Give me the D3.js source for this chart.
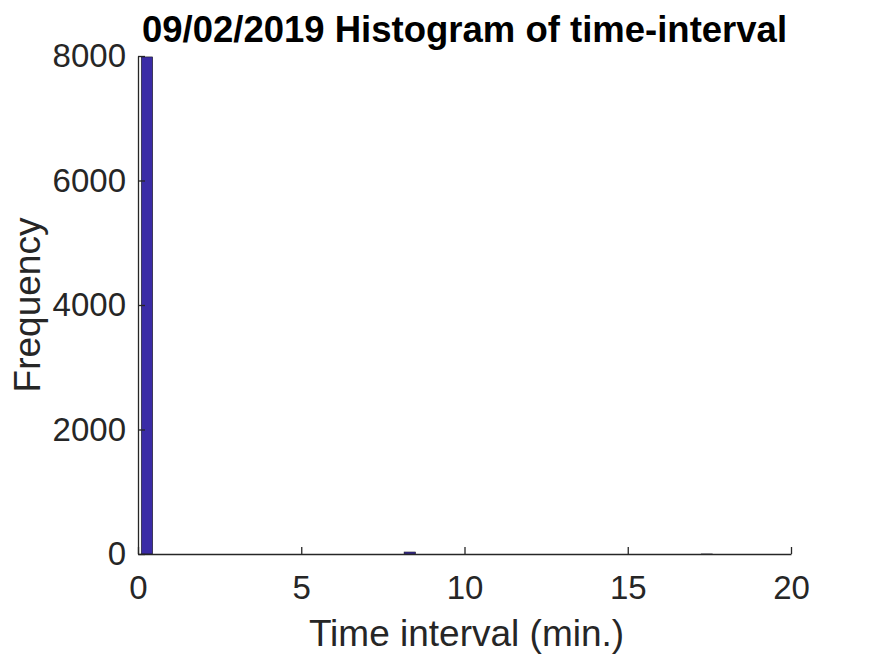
<!DOCTYPE html>
<html>
<head>
<meta charset="utf-8">
<script src="https://cdn.jsdelivr.net/npm/d3@7"></script>
<style>
  body { margin: 0; background: #fff; }
  svg { display: block; font-family: "Liberation Sans", Arial, sans-serif; }
</style>
</head>
<body>
<div id="chart"></div>
<script>
// histogram bins (minutes): 50 bins starting at 0.1, width 0.35
const binStart = 0.1;
const binWidth = 0.35;
const counts = [
  7985, 0, 0, 0, 0, 0, 0, 0, 0, 0,
  0, 0, 0, 0, 0, 0, 0, 0, 0, 0,
  0, 0, 0, 32, 0, 0, 0, 0, 0, 0,
  0, 0, 0, 0, 0, 0, 0, 0, 0, 0,
  0, 0, 0, 0, 0, 0, 0, 0, 0, 1
];
const xTicks = [0, 5, 10, 15, 20];
const yTicks = [0, 2000, 4000, 6000, 8000];

const width = 875, height = 656;
const margin = {left: 138, right: 84, top: 56, bottom: 102};

const svg = d3.select('#chart').append('svg').attr('width', width).attr('height', height);

const x = d3.scaleLinear().domain([0, 20]).range([margin.left, width - margin.right]);
const y = d3.scaleLinear().domain([0, 8000]).range([height - margin.bottom, margin.top]);

const bins = counts.map(function (c, i) {
  return {x0: binStart + i * binWidth, x1: binStart + (i + 1) * binWidth, n: c};
});

svg.append('g').attr('class', 'bars').selectAll('rect').data(bins).enter().append('rect')
  .attr('x', function (d) { return x(d.x0); })
  .attr('y', function (d) { return y(d.n); })
  .attr('width', function (d) { return x(d.x1) - x(d.x0); })
  .attr('height', function (d) { return y(0) - y(d.n); })
  .style('fill', '#3a2ba6')
  .style('stroke', '#1a1a1a')
  .style('stroke-width', 0.6);

const axisColor = '#262626';

const xAxis = d3.axisBottom(x).tickValues(xTicks).tickFormat(d3.format('d'))
  .tickSizeInner(-7).tickSizeOuter(0).tickPadding(22);
const xAxisBlock = svg.append('g').attr('transform', 'translate(0,' + y(0) + ')').call(xAxis);
xAxisBlock.select('.domain').attr('stroke', axisColor).attr('stroke-width', 1.3);
xAxisBlock.selectAll('.tick line').attr('stroke', axisColor).attr('stroke-width', 1.3);
xAxisBlock.selectAll('.tick text').attr('fill', axisColor).style('font-size', '33px');

const yAxis = d3.axisLeft(y).tickValues(yTicks).tickFormat(d3.format('d'))
  .tickSizeInner(-7).tickSizeOuter(0).tickPadding(12);
const yAxisBlock = svg.append('g').attr('transform', 'translate(' + x(0) + ',0)').call(yAxis);
yAxisBlock.select('.domain').attr('stroke', axisColor).attr('stroke-width', 1.3);
yAxisBlock.selectAll('.tick line').attr('stroke', axisColor).attr('stroke-width', 1.3);
yAxisBlock.selectAll('.tick text').attr('fill', axisColor).style('font-size', '33px');

svg.append('text')
  .attr('x', (x(0) + x(20)) / 2).attr('y', 42)
  .attr('text-anchor', 'middle')
  .style('font-size', '36.5px').style('font-weight', 'bold')
  .attr('fill', '#000')
  .text('09/02/2019 Histogram of time-interval');

svg.append('text')
  .attr('x', (x(0) + x(20)) / 2 + 2).attr('y', 646)
  .attr('text-anchor', 'middle')
  .style('font-size', '37px')
  .attr('fill', axisColor)
  .text('Time interval (min.)');

svg.append('text')
  .attr('transform', 'translate(40,' + (y(4000)) + ') rotate(-90)')
  .attr('text-anchor', 'middle')
  .style('font-size', '37px')
  .attr('fill', axisColor)
  .text('Frequency');
</script>
</body>
</html>
